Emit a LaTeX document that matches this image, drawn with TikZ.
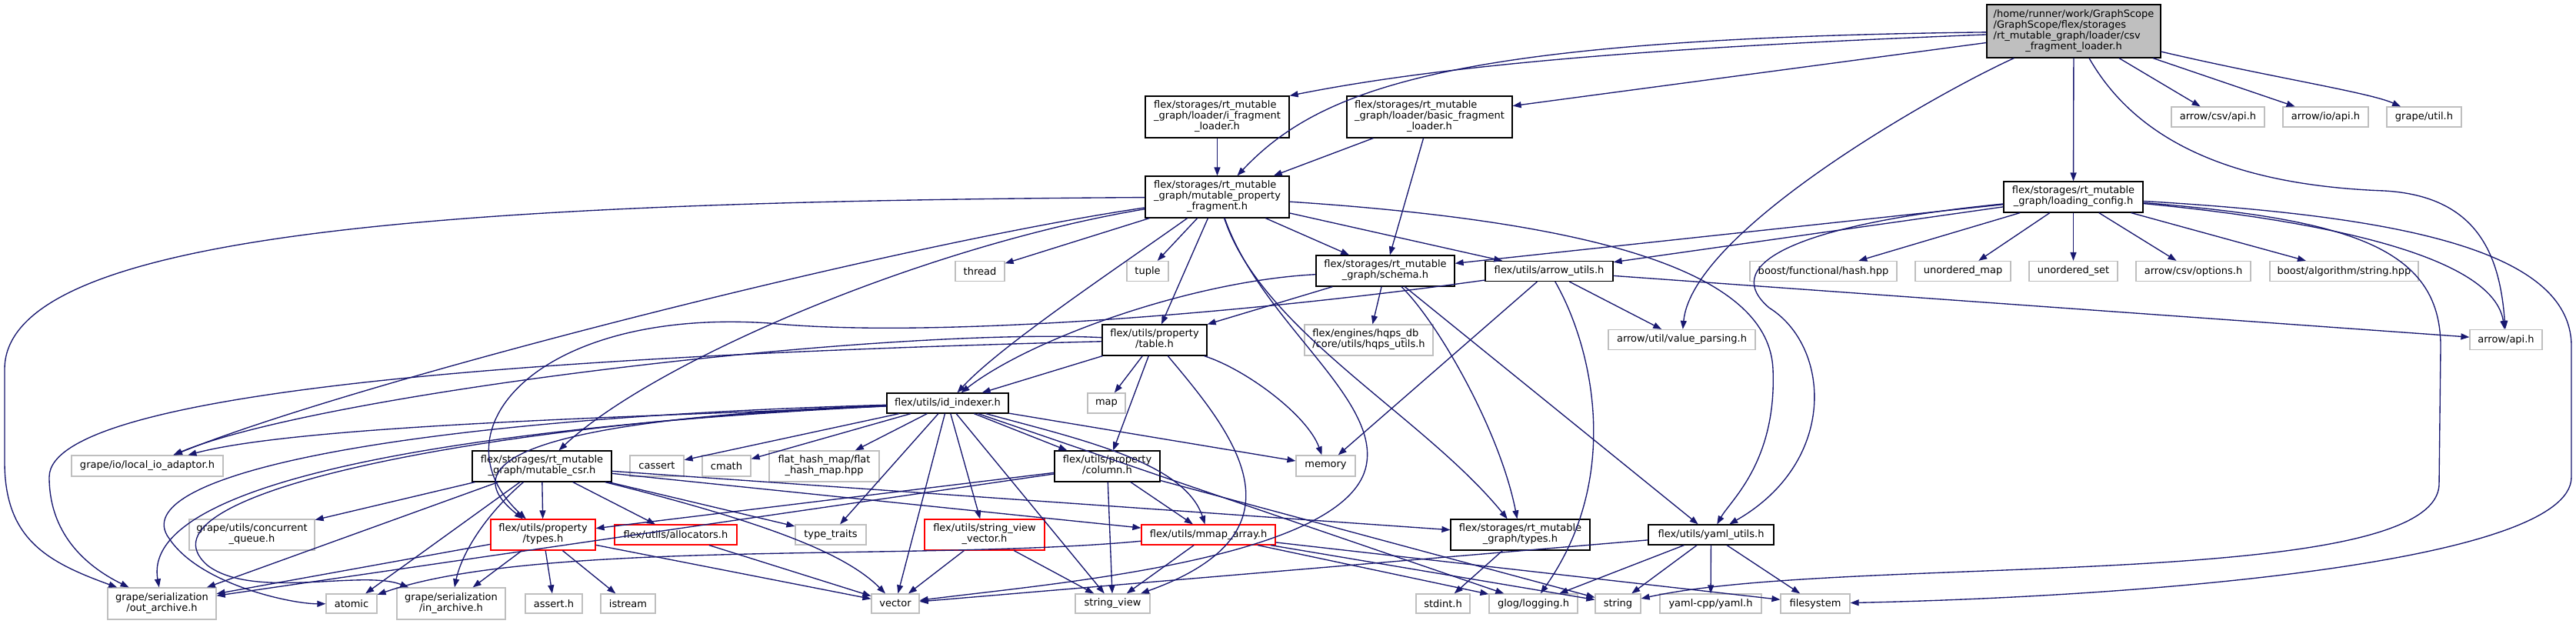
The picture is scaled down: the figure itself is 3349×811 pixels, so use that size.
\documentclass[tikz,border=0pt]{standalone}
\usepackage{fontspec}
\setmainfont{DejaVu Sans}
\usetikzlibrary{arrows.meta}
\definecolor{edgec}{HTML}{191970}
\definecolor{greyb}{HTML}{BFBFBF}
\definecolor{mainfill}{HTML}{BFBFBF}
\newcommand\mlab[2]{\begin{tabular}{@{}l@{}}#1\\\multicolumn{1}{@{}c@{}}{#2}\end{tabular}}
\tikzset{
  box/.style={rectangle, inner sep=0pt, font=\fontsize{13}{14}\selectfont, fill=white, line width=1.2pt},
  doc/.style={box, draw=black},
  ext/.style={box, draw=greyb},
  trn/.style={box, draw=red},
  e/.style={draw=edgec, line width=1.35pt, -{Triangle[length=11pt,width=8pt]}},
}
\begin{document}
\begin{tikzpicture}[x=1pt,y=-1pt]
\useasboundingbox (0,0) rectangle (3349,811);
% ---------- nodes ----------
\node[doc,fill=mainfill,minimum width=226,minimum height=69] (main) at (2696,40.5) {\mlab{/home/runner/work/GraphScope\\/GraphScope/flex/storages\\/rt\_mutable\_graph/loader/csv}{\_fragment\_loader.h}};
\node[ext,minimum width=121,minimum height=26] (csvapi) at (2883.5,152) {arrow/csv/api.h};
\node[ext,minimum width=111,minimum height=26] (ioapi) at (3023.5,152) {arrow/io/api.h};
\node[ext,minimum width=97,minimum height=26] (gutil) at (3151.5,152) {grape/util.h};
\node[doc,minimum width=187,minimum height=54] (ifl) at (1582.5,152) {\mlab{flex/storages/rt\_mutable\\\_graph/loader/i\_fragment}{\_loader.h}};
\node[doc,minimum width=215,minimum height=54] (bfl) at (1858.5,152) {\mlab{flex/storages/rt\_mutable\\\_graph/loader/basic\_fragment}{\_loader.h}};
\node[doc,minimum width=187,minimum height=54] (mpf) at (1582.5,256) {\mlab{flex/storages/rt\_mutable\\\_graph/mutable\_property}{\_fragment.h}};
\node[doc,minimum width=181,minimum height=40] (lc) at (2695.5,256) {\mlab{flex/storages/rt\_mutable}{\_graph/loading\_config.h}};
\node[ext,minimum width=64,minimum height=26] (thread) at (1274,352.5) {thread};
\node[ext,minimum width=54,minimum height=26] (tuple) at (1492,352.5) {tuple};
\node[doc,minimum width=180,minimum height=40] (schema) at (1801,352) {\mlab{flex/storages/rt\_mutable}{\_graph/schema.h}};
\node[doc,minimum width=166,minimum height=26] (au) at (2014,352.5) {flex/utils/arrow\_utils.h};
\node[ext,minimum width=191,minimum height=26] (bhash) at (2370.5,352.5) {boost/functional/hash.hpp};
\node[ext,minimum width=124,minimum height=26] (umap) at (2552,352.5) {unordered\_map};
\node[ext,minimum width=115,minimum height=26] (uset) at (2695.5,352.5) {unordered\_set};
\node[ext,minimum width=149,minimum height=26] (csvopt) at (2851.5,352.5) {arrow/csv/options.h};
\node[ext,minimum width=193,minimum height=26] (balg) at (3047.5,352.5) {boost/algorithm/string.hpp};
\node[doc,minimum width=136,minimum height=40] (table) at (1501,442) {\mlab{flex/utils/property}{/table.h}};
\node[ext,minimum width=167,minimum height=40] (hqps) at (1779.5,442) {\mlab{flex/engines/hqps\_db}{/core/utils/hqps\_utils.h}};
\node[ext,minimum width=191,minimum height=26] (vp) at (2186.5,441.5) {arrow/util/value\_parsing.h};
\node[ext,minimum width=94,minimum height=26] (aapi) at (3258,441.5) {arrow/api.h};
\node[doc,minimum width=158,minimum height=26] (idx) at (1232,524) {flex/utils/id\_indexer.h};
\node[ext,minimum width=49,minimum height=26] (map) at (1438.5,524) {map};
\node[ext,minimum width=197,minimum height=27] (lio) at (191.5,605.5) {grape/io/local\_io\_adaptor.h};
\node[doc,minimum width=181,minimum height=40] (csr) at (704.5,606) {\mlab{flex/storages/rt\_mutable}{\_graph/mutable\_csr.h}};
\node[ext,minimum width=70,minimum height=27] (cassert) at (854,605.5) {cassert};
\node[ext,minimum width=63,minimum height=27] (cmath) at (944.5,605.5) {cmath};
\node[ext,minimum width=143,minimum height=40] (fhm) at (1071.5,606) {\mlab{flat\_hash\_map/flat}{\_hash\_map.hpp}};
\node[doc,minimum width=137,minimum height=40] (column) at (1439.5,606) {\mlab{flex/utils/property}{/column.h}};
\node[ext,minimum width=77,minimum height=27] (memory) at (1723.5,605.5) {memory};
\node[ext,minimum width=163,minimum height=40] (cq) at (327.5,695) {\mlab{grape/utils/concurrent}{\_queue.h}};
\node[trn,minimum width=136,minimum height=40] (ptypes) at (706,695) {\mlab{flex/utils/property}{/types.h}};
\node[trn,minimum width=159,minimum height=26] (alloc) at (878.5,695) {flex/utils/allocators.h};
\node[ext,minimum width=92,minimum height=26] (tt) at (1080,695) {type\_traits};
\node[trn,minimum width=156,minimum height=40] (svv) at (1280,695) {\mlab{flex/utils/string\_view}{\_vector.h}};
\node[trn,minimum width=174,minimum height=26] (mmap) at (1571,695) {flex/utils/mmap\_array.h};
\node[doc,minimum width=181,minimum height=40] (rtt) at (1976.5,695) {\mlab{flex/storages/rt\_mutable}{\_graph/types.h}};
\node[doc,minimum width=163,minimum height=26] (yaml) at (2224.5,695) {flex/utils/yaml\_utils.h};
\node[ext,minimum width=141,minimum height=41] (oa) at (210.5,784.5) {\mlab{grape/serialization}{/out\_archive.h}};
\node[ext,minimum width=66,minimum height=25] (atomic) at (457,784.5) {atomic};
\node[ext,minimum width=141,minimum height=41] (ia) at (586.5,784.5) {\mlab{grape/serialization}{/in\_archive.h}};
\node[ext,minimum width=74,minimum height=25] (asserth) at (720,784.5) {assert.h};
\node[ext,minimum width=71,minimum height=25] (istream) at (816.5,784.5) {istream};
\node[ext,minimum width=62,minimum height=25] (vector) at (1164,784.5) {vector};
\node[ext,minimum width=97,minimum height=25] (sv) at (1446.5,784.5) {string\_view};
\node[ext,minimum width=70,minimum height=25] (stdint) at (1876,784.5) {stdint.h};
\node[ext,minimum width=115,minimum height=25] (glog) at (1993.5,784.5) {glog/logging.h};
\node[ext,minimum width=59,minimum height=25] (string) at (2103.5,784.5) {string};
\node[ext,minimum width=132,minimum height=25] (yamlcpp) at (2224,784.5) {yaml-cpp/yaml.h};
\node[ext,minimum width=90,minimum height=25] (fs) at (2360,784.5) {filesystem};
% ---------- edges ----------
% main
\draw[e] (main) .. controls (2200,60) and (1900,80) .. (ifl.north east);
\draw[e] (main) -- (bfl);
\draw[e] (main) .. controls (1900,50) and (1720,110) .. (mpf);
\draw[e] (main) -- (lc);
\draw[e] (main) -- (csvapi);
\draw[e] (main) -- (ioapi);
\draw[e] (main) .. controls (2950,100) and (3080,120) .. (gutil);
\draw[e] (main) .. controls (2520,120) and (2200,300) .. (vp);
\draw[e] (main) .. controls (2770,170) and (2880,240) .. (3100,248) .. controls (3220,255) and (3250,330) .. (aapi);
% loaders
\draw[e] (ifl) -- (mpf);
\draw[e] (bfl) -- (mpf);
\draw[e] (bfl) -- (schema);
% mutable_property_fragment
\draw[e] (mpf) .. controls (600,262) and (6,300) .. (6,480) -- (6,600) .. controls (6,700) and (60,730) .. (oa);
\draw[e] (mpf) .. controls (1150,320) and (450,500) .. (lio);
\draw[e] (mpf) .. controls (1200,320) and (850,470) .. (csr);
\draw[e] (mpf) -- (thread);
\draw[e] (mpf) .. controls (1450,350) and (1300,450) .. (idx);
\draw[e] (mpf) -- (tuple);
\draw[e] (mpf) -- (table);
\draw[e] (mpf) -- (schema);
\draw[e] (mpf) -- (au);
\draw[e] (mpf) .. controls (1640,420) and (1800,520) .. (1775,610) .. controls (1740,730) and (1350,760) .. (vector);
\draw[e] (mpf) .. controls (1640,430) and (1850,540) .. (rtt);
\draw[e] (mpf) .. controls (2100,290) and (2300,360) .. (2305,480) .. controls (2310,600) and (2250,650) .. (yaml);
% loading_config
\draw[e] (lc) -- (schema);
\draw[e] (lc) -- (au);
\draw[e] (lc) -- (bhash);
\draw[e] (lc) -- (umap);
\draw[e] (lc) -- (uset);
\draw[e] (lc) -- (csvopt);
\draw[e] (lc) -- (balg);
\draw[e] (lc) .. controls (2950,280) and (3240,320) .. (aapi);
\draw[e] (lc) .. controls (2350,290) and (2230,340) .. (2300,400) .. controls (2380,450) and (2390,600) .. (yaml);
\draw[e] (lc) .. controls (3050,285) and (3173,320) .. (3173,450) -- (3171,630) .. controls (3165,770) and (2400,720) .. (string);
\draw[e] (lc) .. controls (3100,280) and (3343,320) .. (3343,450) -- (3343,620) .. controls (3343,730) and (2800,775) .. (fs);
% schema
\draw[e] (schema) .. controls (1550,365) and (1340,440) .. (idx);
\draw[e] (schema) -- (table);
\draw[e] (schema) -- (hqps);
\draw[e] (schema) .. controls (1870,420) and (1950,560) .. (rtt);
\draw[e] (schema) -- (yaml);
% arrow_utils
\draw[e] (au) .. controls (1600,410) and (1200,440) .. (1000,420) .. controls (700,400) and (560,560) .. (ptypes);
\draw[e] (au) -- (memory);
\draw[e] (au) -- (vp);
\draw[e] (au) -- (aapi);
\draw[e] (au) .. controls (2070,450) and (2110,620) .. (glog);
% table
\draw[e] (table) .. controls (1150,425) and (420,510) .. (lio);
\draw[e] (table) .. controls (800,460) and (64,500) .. (64,620) .. controls (64,700) and (120,740) .. (oa);
\draw[e] (table) -- (idx);
\draw[e] (table) -- (map);
\draw[e] (table) -- (column);
\draw[e] (table) .. controls (1620,480) and (1700,540) .. (memory);
\draw[e] (table) .. controls (1600,560) and (1710,690) .. (sv);
% id_indexer
\draw[e] (idx) .. controls (900,540) and (400,550) .. (lio);
\draw[e] (idx) .. controls (700,550) and (180,610) .. (oa);
\draw[e] (idx) .. controls (500,545) and (160,620) .. (220,700) .. controls (260,760) and (380,785) .. (atomic);
\draw[e] (idx) .. controls (650,548) and (160,640) .. (270,735) .. controls (330,780) and (470,740) .. (ia);
\draw[e] (idx) .. controls (800,540) and (560,580) .. (ptypes);
\draw[e] (idx) -- (cassert);
\draw[e] (idx) -- (cmath);
\draw[e] (idx) -- (fhm);
\draw[e] (idx) -- (column);
\draw[e] (idx) -- (memory);
\draw[e] (idx) .. controls (1400,570) and (1540,600) .. (mmap);
\draw[e] (idx) -- (svv);
\draw[e] (idx) -- (sv);
\draw[e] (idx) -- (vector);
\draw[e] (idx) -- (tt);
\draw[e] (idx) -- (glog);
% mutable_csr
\draw[e] (csr) -- (cq);
\draw[e] (csr) -- (oa);
\draw[e] (csr) -- (atomic);
\draw[e] (csr) .. controls (630,670) and (600,720) .. (ia);
\draw[e] (csr) -- (ptypes);
\draw[e] (csr) -- (alloc);
\draw[e] (csr) -- (tt);
\draw[e] (csr) .. controls (1000,680) and (1100,720) .. (vector);
\draw[e] (csr) -- (mmap);
\draw[e] (csr) -- (rtt);
% property/types
\draw[e] (ptypes) -- (oa);
\draw[e] (ptypes) -- (ia);
\draw[e] (ptypes) -- (asserth);
\draw[e] (ptypes) -- (istream);
\draw[e] (ptypes) -- (vector);
% others
\draw[e] (alloc) -- (vector);
\draw[e] (column) -- (ptypes);
\draw[e] (column) -- (oa);
\draw[e] (column) -- (sv);
\draw[e] (column) -- (mmap);
\draw[e] (column) -- (string);
\draw[e] (svv) -- (vector);
\draw[e] (svv) -- (sv);
\draw[e] (mmap) -- (sv);
\draw[e] (mmap) -- (glog);
\draw[e] (mmap) -- (string);
\draw[e] (mmap) -- (fs);
\draw[e] (mmap) .. controls (1200,730) and (700,700) .. (atomic);
\draw[e] (rtt) -- (stdint);
\draw[e] (yaml) -- (vector);
\draw[e] (yaml) -- (glog);
\draw[e] (yaml) -- (string);
\draw[e] (yaml) -- (yamlcpp);
\draw[e] (yaml) -- (fs);
\end{tikzpicture}
\end{document}
